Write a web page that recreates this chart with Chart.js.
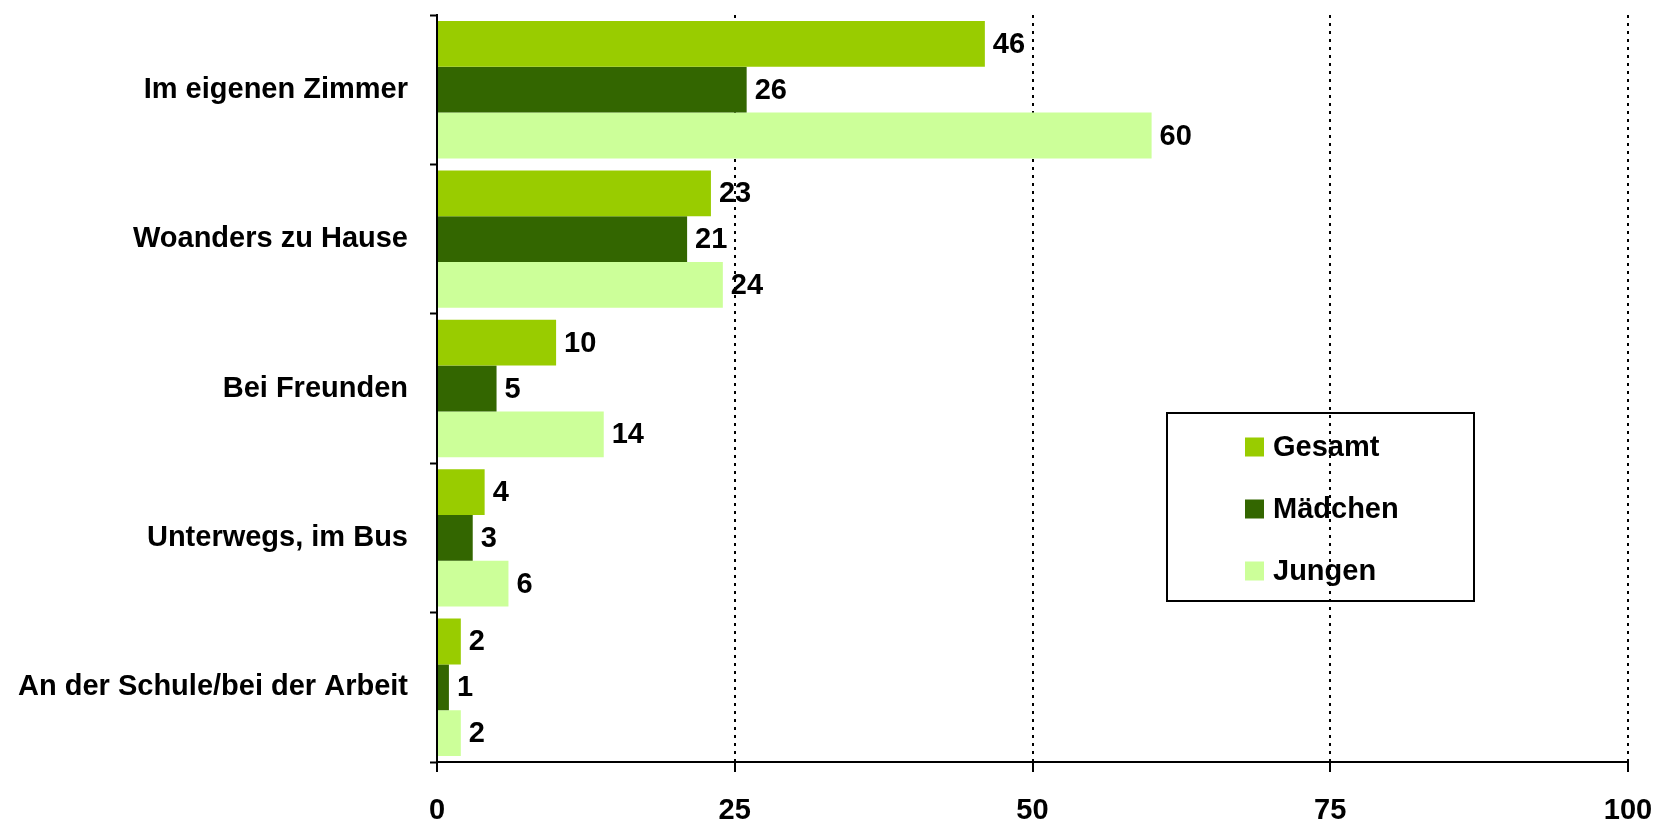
<!DOCTYPE html>
<html>
<head>
<meta charset="utf-8">
<script src="https://cdn.jsdelivr.net/npm/chart.js@4"></script>
<style>
  html, body { margin: 0; padding: 0; background: #fff; }
  #wrap { width: 1658px; height: 821px; }
</style>
</head>
<body>
<div id="wrap"><canvas id="chart" width="1658" height="821"></canvas></div>
<script>
// Kategorien und Werte (Prozent)
var kategorien = ["Im eigenen Zimmer", "Woanders zu Hause", "Bei Freunden", "Unterwegs, im Bus", "An der Schule/bei der Arbeit"];
var gesamt = [46, 23, 10, 4, 2];
var maedchen = [26, 21, 5, 3, 1];
var jungen = [60, 24, 14, 6, 2];
var xTicks = [0, 25, 50, 75, 100];

var serienNamen = ["Gesamt", "Mädchen", "Jungen"];
var farben = ["#99CC00", "#336600", "#CCFF99"];

var schrift = { family: "'Liberation Sans', Arial, sans-serif", size: 29, weight: "bold" };

// Werte rechts neben die Balken schreiben
var wertePlugin = {
    id: 'werte',
    afterDatasetsDraw: function(chart) {
        var ctx = chart.ctx;
        ctx.save();
        ctx.font = "bold 29px 'Liberation Sans', Arial, sans-serif";
        ctx.fillStyle = "#000";
        ctx.textAlign = "left";
        ctx.textBaseline = "middle";
        chart.data.datasets.forEach(function(ds, i) {
            var meta = chart.getDatasetMeta(i);
            meta.data.forEach(function(bar, j) {
                ctx.fillText(ds.data[j], bar.x + 8, bar.y + 1);
            });
        });
        ctx.restore();
    }
};

// Legende im Kasten
var legendePlugin = {
    id: 'legende',
    afterDraw: function(chart) {
        var ctx = chart.ctx;
        ctx.save();
        ctx.strokeStyle = "#000";
        ctx.lineWidth = 2;
        ctx.strokeRect(1167, 413, 307, 188);
        ctx.font = "bold 29px 'Liberation Sans', Arial, sans-serif";
        ctx.textAlign = "left";
        ctx.textBaseline = "middle";
        var ys = [447, 509, 571];
        chart.data.datasets.forEach(function(ds, i) {
            ctx.fillStyle = ds.backgroundColor;
            ctx.fillRect(1245, ys[i] - 9.5, 19, 19);
            ctx.fillStyle = "#000";
            ctx.fillText(ds.label, 1273, ys[i] + 1);
        });
        ctx.restore();
    }
};

var datensaetze = [gesamt, maedchen, jungen].map(function(werte, i) {
    return {
        label: serienNamen[i],
        data: werte,
        backgroundColor: farben[i],
        borderWidth: 0,
        categoryPercentage: 0.92,
        barPercentage: 1.0
    };
});

new Chart(document.getElementById("chart"), {
    type: "bar",
    data: { labels: kategorien, datasets: datensaetze },
    plugins: [wertePlugin, legendePlugin],
    options: {
        indexAxis: "y",
        responsive: false,
        animation: false,
        events: [],
        layout: { padding: { top: 15, right: 30, left: 0, bottom: 0 } },
        plugins: { legend: { display: false }, tooltip: { enabled: false } },
        scales: {
            x: {
                min: 0,
                max: 100,
                afterBuildTicks: function(scale) {
                    scale.ticks = xTicks.map(function(v) { return { value: v }; });
                },
                afterFit: function(scale) {
                    scale.height = 59;
                    scale.paddingLeft = 0;
                    scale.paddingRight = 0;
                },
                ticks: { color: "#000", font: schrift, padding: 22, maxRotation: 0 },
                grid: {
                    color: "#000",
                    lineWidth: 2,
                    drawTicks: true,
                    tickLength: 10,
                    tickColor: "#000",
                    tickWidth: 2
                },
                border: { display: true, color: "#000", width: 2, dash: [3, 5] }
            },
            y: {
                afterFit: function(scale) {
                    scale.width = 437;
                    scale.paddingTop = 0;
                    scale.paddingBottom = 0;
                },
                ticks: { color: "#000", font: schrift, padding: 22 },
                grid: {
                    offset: true,
                    drawOnChartArea: false,
                    drawTicks: true,
                    tickLength: 7,
                    tickColor: "#000",
                    tickWidth: 2
                },
                border: { display: true, color: "#000", width: 2 }
            }
        }
    }
});
</script>
</body>
</html>
